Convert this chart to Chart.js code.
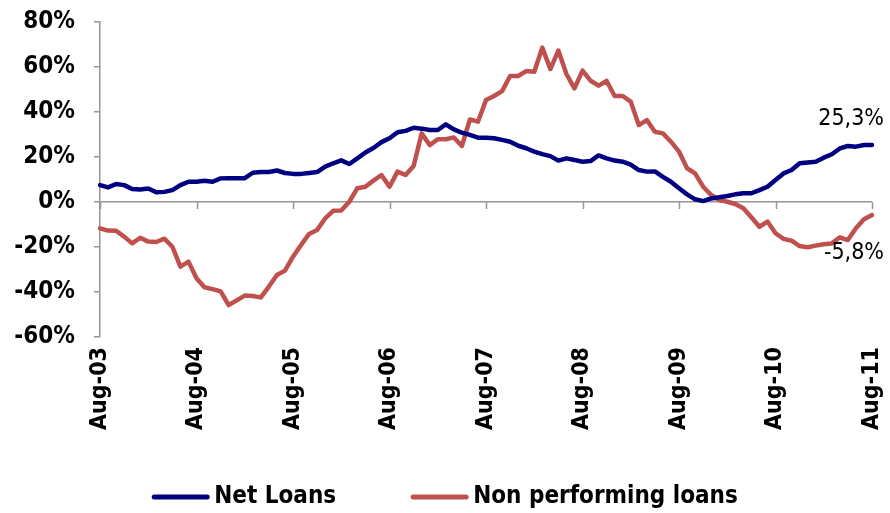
<!DOCTYPE html>
<html>
<head>
<meta charset="utf-8">
<script src="https://cdn.jsdelivr.net/npm/chart.js@4/dist/chart.umd.min.js"></script>
<style>
  html, body { margin: 0; padding: 0; background: #fff; }
  #wrap { width: 890px; height: 513px; }
</style>
</head>
<body>
<div id="wrap"><canvas id="loansChart" width="890" height="513"></canvas></div>
<script>
// monthly, Aug-03 .. Aug-11
const monthNames = ["Jan","Feb","Mar","Apr","May","Jun","Jul","Aug","Sep","Oct","Nov","Dec"];
const months = [];
for (let i = 0; i < 97; i++) {
  const m = (7 + i) % 12;
  const y = 3 + Math.floor((7 + i) / 12);
  months.push(monthNames[m] + "-" + String(y).padStart(2, "0"));
}

const netLoans = [
  7.5, 6.5, 8.0, 7.5, 5.8, 5.6, 6.0, 4.3, 4.5, 5.3, 7.5, 9.0,
  9.0, 9.4, 9.0, 10.5, 10.6, 10.6, 10.6, 13.0, 13.3, 13.3, 14.0, 12.9,
  12.5, 12.5, 12.9, 13.3, 15.7, 17.2, 18.5, 16.9, 19.4, 22.0, 24.0, 26.6,
  28.3, 31.0, 31.6, 33.0, 32.6, 32.0, 32.0, 34.5, 32.3, 30.8, 29.8, 28.6,
  28.6, 28.3, 27.6, 26.8, 25.0, 23.9, 22.4, 21.3, 20.4, 18.4, 19.4, 18.7,
  17.9, 18.2, 20.7, 19.4, 18.4, 17.9, 16.6, 14.2, 13.5, 13.6, 11.2, 9.0,
  6.1, 3.4, 1.2, 0.4, 1.6, 2.1, 2.7, 3.4, 3.9, 3.9, 5.3, 6.8,
  9.8, 12.7, 14.2, 17.2, 17.6, 17.9, 19.7, 21.2, 23.8, 24.9, 24.6, 25.3,
  25.3
];

const nonPerforming = [
  -11.7, -12.7, -12.8, -15.4, -18.4, -15.9, -17.6, -17.8, -16.3, -19.9, -28.7, -26.5,
  -33.9, -37.9, -38.7, -39.7, -45.8, -43.7, -41.6, -41.8, -42.4, -37.6, -32.4, -30.5,
  -24.3, -19.1, -14.2, -12.4, -7.3, -3.9, -3.8, 0.1, 6.1, 6.8, 9.5, 12.0,
  6.8, 13.5, 12.0, 16.0, 30.5, 25.3, 27.9, 27.9, 28.7, 24.9, 36.7, 35.7,
  45.3, 47.1, 49.3, 56.0, 56.0, 58.2, 57.9, 68.6, 59.1, 67.3, 56.9, 50.5,
  58.4, 53.9, 51.7, 53.8, 47.1, 47.1, 44.6, 34.2, 36.4, 31.2, 30.5, 26.8,
  22.4, 15.0, 12.7, 6.8, 3.1, 0.9, 0.1, -0.9, -2.8, -6.8, -11.0, -8.7,
  -13.9, -16.4, -17.2, -19.6, -20.1, -19.4, -18.8, -18.4, -15.7, -16.9, -11.7, -7.7,
  -5.8
];

const seriesNames = ["Net Loans", "Non performing loans"];
const seriesColors = ["#000080", "#c0504d"];

const FONT = "'DejaVu Sans Condensed', 'DejaVu Sans', sans-serif";
const axisGray = "#969696";

function fmtPct(v) {
  return v.toFixed(1).replace(".", ",") + "%";
}

// tick marks on the zero line + end labels + legend
const extrasPlugin = {
  id: "extras",
  beforeDatasetsDraw(chart) {
    const ctx = chart.ctx;
    const xs = chart.scales.x;
    const y0 = chart.scales.y.getPixelForValue(0);
    ctx.save();
    ctx.strokeStyle = axisGray;
    ctx.lineWidth = 1.5;
    for (let i = 0; i < months.length; i += 12) {
      const px = Math.round(xs.getPixelForValue(i)) + 0.5;
      ctx.beginPath();
      ctx.moveTo(px, y0);
      ctx.lineTo(px, y0 + 7);
      ctx.stroke();
    }
    ctx.restore();
  },
  afterDraw(chart) {
    const ctx = chart.ctx;
    ctx.save();
    // end value labels
    ctx.font = "23px " + FONT;
    ctx.fillStyle = "#000";
    ctx.textAlign = "right";
    ctx.textBaseline = "middle";
    const last = months.length - 1;
    const p0 = chart.getDatasetMeta(0).data[last];
    const p1 = chart.getDatasetMeta(1).data[last];
    ctx.fillText(fmtPct(netLoans[last]), p0.x + 12, p0.y - 26);
    ctx.fillText(fmtPct(nonPerforming[last]), p1.x + 12, p1.y + 38);

    // legend
    ctx.font = "bold 24px " + FONT;
    ctx.textAlign = "left";
    const lineW = 57, gapTxt = 5, gapItem = 75;
    const widths = seriesNames.map((n) => ctx.measureText(n).width);
    const total = widths.reduce((a, b) => a + b, 0) + 2 * (lineW + gapTxt) + gapItem;
    let x = (chart.width - total) / 2;
    const ly = 497;
    seriesNames.forEach((n, k) => {
      ctx.strokeStyle = seriesColors[k];
      ctx.lineWidth = 5;
      ctx.lineCap = "round";
      ctx.beginPath();
      ctx.moveTo(x + 2, ly);
      ctx.lineTo(x + lineW - 2, ly);
      ctx.stroke();
      x += lineW + gapTxt;
      ctx.fillStyle = "#000";
      ctx.fillText(n, x, ly);
      x += widths[k] + gapItem;
    });
    ctx.restore();
  }
};

new Chart(document.getElementById("loansChart").getContext("2d"), {
  type: "line",
  data: {
    labels: months,
    datasets: [
      {
        label: seriesNames[0],
        data: netLoans,
        borderColor: seriesColors[0],
        backgroundColor: seriesColors[0],
        borderWidth: 4.5,
        pointRadius: 0,
        tension: 0,
        borderJoinStyle: "round",
        borderCapStyle: "round",
      },
      {
        label: seriesNames[1],
        data: nonPerforming,
        borderColor: seriesColors[1],
        backgroundColor: seriesColors[1],
        borderWidth: 4.5,
        pointRadius: 0,
        tension: 0,
        borderJoinStyle: "round",
        borderCapStyle: "round",
      },
    ],
  },
  options: {
    responsive: false,
    animation: false,
    layout: {
      padding: { top: 22, right: 18, left: 0, bottom: 56 },
    },
    plugins: {
      legend: { display: false },
      tooltip: { enabled: false },
    },
    scales: {
      x: {
        offset: false,
        grid: { display: false, drawTicks: false },
        border: { display: false },
        ticks: {
          autoSkip: false,
          maxRotation: 90,
          minRotation: 90,
          padding: 10,
          color: "#000",
          font: { family: FONT, size: 23, weight: "bold" },
          callback: function (value, index) {
            return index % 12 === 0 ? months[index] : "";
          },
        },
        afterFit: function (scale) {
          scale.height = 120;
          scale.paddingLeft = 0;
          scale.paddingRight = 0;
        },
      },
      y: {
        min: -60,
        max: 80,
        ticks: {
          stepSize: 20,
          padding: 19,
          color: "#000",
          font: { family: FONT, size: 24, weight: "bold" },
          callback: function (v) {
            return v + "%";
          },
        },
        grid: {
          drawOnChartArea: true,
          color: function (c) {
            return c.tick && c.tick.value === 0 ? axisGray : "rgba(0,0,0,0)";
          },
          lineWidth: 1.5,
          tickColor: axisGray,
          tickLength: 6,
        },
        border: { display: true, color: axisGray, width: 1.5 },
        afterFit: function (scale) {
          scale.width = 100;
          scale.paddingTop = 0;
          scale.paddingBottom = 0;
        },
      },
    },
  },
  plugins: [extrasPlugin],
});
</script>
</body>
</html>
